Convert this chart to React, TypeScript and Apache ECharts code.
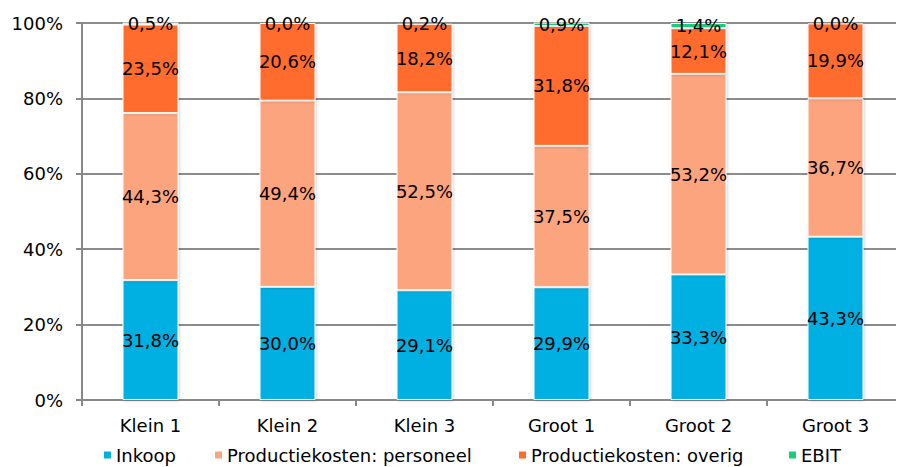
import React, { useEffect, useRef } from "react";
import * as echarts from "echarts";

const categories = ["Klein 1", "Klein 2", "Klein 3", "Groot 1", "Groot 2", "Groot 3"];
const inkoop = [31.8, 30.0, 29.1, 29.9, 33.3, 43.3];
const personeel = [44.3, 49.4, 52.5, 37.5, 53.2, 36.7];
const overig = [23.5, 20.6, 18.2, 31.8, 12.1, 19.9];
const ebit = [0.5, 0.0, 0.2, 0.9, 1.4, 0.0];
const seriesNames = ["Inkoop", "Productiekosten: personeel", "Productiekosten: overig", "EBIT"];
const colors = ["#00B0E2", "#FCA47E", "#FF6C2E", "#1ECB7D"];
const legendLeft = [102, 213, 517, 787];

const FONT = "DejaVu Sans";

export default function App() {
  const ref = useRef<HTMLDivElement>(null);
  useEffect(() => {
    if (!ref.current) return;
    const chart = echarts.init(ref.current, undefined, { renderer: "svg" });
    const datasets = [inkoop, personeel, overig, ebit];
    chart.setOption({
      animation: false,
      textStyle: { fontFamily: FONT },
      grid: { left: 82, top: 23, bottom: 67, right: -12, containLabel: false },
      legend: seriesNames.map((name, i) => ({
        data: [name],
        left: legendLeft[i],
        top: 446,
        padding: 0,
        itemWidth: 9,
        itemHeight: 9,
        icon: "rect",
        textStyle: { fontFamily: FONT, fontSize: 18, color: "#000", padding: [0, 0, 0, -1] },
      })),
      xAxis: {
        type: "category",
        data: categories,
        axisLine: { lineStyle: { color: "#888", width: 2 } },
        axisTick: { show: true, length: 6, lineStyle: { color: "#888", width: 2 } },
        axisLabel: { fontFamily: FONT, fontSize: 18, color: "#000", margin: 16 },
      },
      yAxis: {
        type: "value",
        min: 0,
        max: 100,
        interval: 20,
        axisLine: { show: true, lineStyle: { color: "#888", width: 2 } },
        axisTick: { show: true, length: 6, lineStyle: { color: "#888", width: 2 } },
        splitLine: { show: true, lineStyle: { color: "#8c8c8c", width: 2 } },
        axisLabel: {
          fontFamily: FONT,
          fontSize: 18,
          color: "#000",
          margin: 19,
          formatter: (v: number) => v + "%",
        },
      },
      series: seriesNames.map((name, i) => ({
        name,
        type: "bar",
        stack: "total",
        barWidth: 56,
        data: datasets[i],
        itemStyle: {
          color: colors[i],
          borderColor: "#fff",
          borderWidth: 1,
          shadowBlur: 3,
          shadowColor: "rgba(0,0,0,0.18)",
          shadowOffsetX: 1,
          shadowOffsetY: 1,
        },
        label: {
          show: true,
          position: "inside",
          fontFamily: FONT,
          fontSize: 18,
          color: "#000",
          formatter: (p: any) => p.value.toFixed(1).replace(".", ",") + "%",
        },
      })),
    });
    return () => chart.dispose();
  }, []);
  return <div ref={ref} style={{ width: 904, height: 467, marginLeft: -8, marginTop: -8 }} />;
}
